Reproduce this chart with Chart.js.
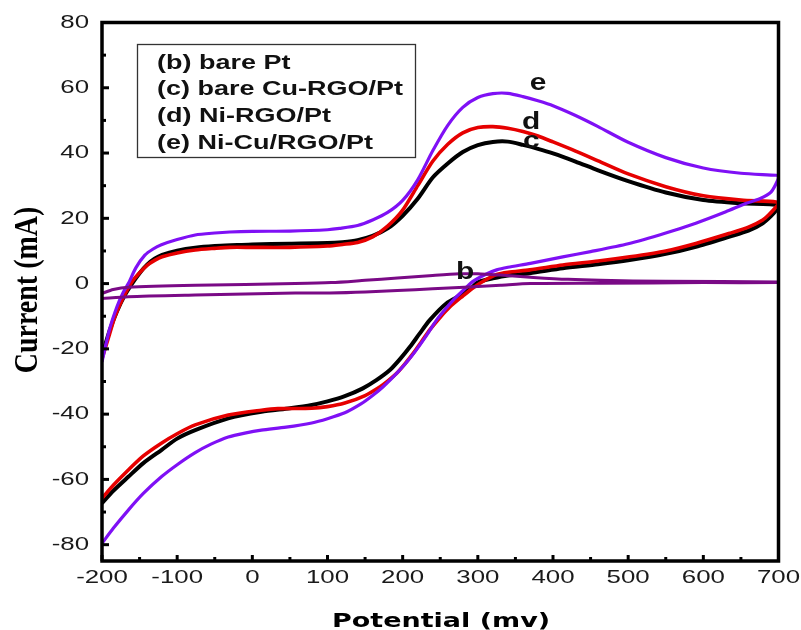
<!DOCTYPE html>
<html>
<head>
<meta charset="utf-8">
<script src="https://cdn.jsdelivr.net/npm/chart.js@4.4.0/dist/chart.umd.min.js"></script>
<style>
    html, body { margin: 0; padding: 0; background: #fff; }
    #wrap { width: 801px; height: 630px; }
</style>
</head>
<body>
<div id="wrap"><canvas id="cv-chart" width="801" height="630"></canvas></div>
<script>
// Axis ticks
const xTicks = [-200, -100, 0, 100, 200, 300, 400, 500, 600, 700];
const yTicks = [-80, -60, -40, -20, 0, 20, 40, 60, 80];

// (b) bare Pt - forward sweep then reverse sweep
const bPot = [-200, -185, -165, -76, 57, 105, 150, 193, 240, 275, 300, 330, 374, 420, 463, 550, 700,
              700, 600, 463, 370, 330, 282, 240, 193, 150, 103, 57, -76, -165, -200];
const bCur = [-3, -1.8, -1.1, -0.5, 0, 0.3, 1, 1.7, 2.5, 3, 3, 2.6, 1.9, 1.3, 1, 0.7, 0.5,
              0.3, 0.3, 0.1, 0, -0.5, -1.1, -1.6, -2.1, -2.6, -2.9, -2.9, -3.5, -4, -4.6];

// (c) bare Cu-RGO/Pt
const cPot = [-200, -190, -180, -170, -160, -150, -140, -130, -120, -100, -76, -50, -20, 0, 50, 100, 120, 140, 160, 180, 200, 220, 240, 260, 280, 300, 320, 340, 360, 380, 400, 430, 460, 500, 550, 600, 650, 700,
              697, 690, 679, 660, 635, 590, 550, 502, 460, 413, 369, 340, 320, 300, 293, 280, 258, 236, 222, 210, 197, 183, 165, 147, 123, 100, 79, 50, 12, -32, -76, -100, -121, -145, -165, -185, -200];
const cCur = [-22, -14.5, -8.5, -3.7, 0, 3.2, 5.8, 7.6, 8.8, 10.1, 11, 11.5, 11.8, 12, 12.2, 12.4, 12.7, 13.3, 14.6, 16.9, 20.8, 26, 32.5, 36.8, 40.3, 42.4, 43.4, 43.5, 42.5, 41.3, 39.9, 37.4, 34.7, 31.4, 27.9, 25.6, 24.6, 24,
              22.5, 20.7, 18.5, 16.2, 14.4, 11.3, 9.1, 7.2, 5.9, 4.7, 3.2, 2.5, 1.6, 0.4, -1, -3.2, -6.1, -11.2, -15.5, -19.3, -23, -26.5, -29.6, -32.1, -34.5, -36.1, -37.2, -38.2, -39.3, -41.3, -44.9, -47.5, -51, -55, -59.2, -63.5, -67.3];

// (d) Ni-RGO/Pt
const dPot = [-200, -190, -183, -176, -169, -160, -150, -140, -130, -120, -100, -76, -50, -30, 0, 50, 100, 120, 140, 160, 180, 200, 220, 240, 260, 280, 300, 320, 340, 360, 380, 400, 430, 460, 500, 550, 600, 650, 697, 700,
              695, 688, 679, 660, 635, 590, 550, 502, 460, 413, 369, 340, 325, 310, 293, 280, 263, 250, 236, 225, 214, 203, 192, 180, 170, 150, 123, 100, 79, 34, 12, -32, -76, -100, -121, -145, -165, -185, -200];
const dCur = [-23, -15.5, -10.2, -6.3, -3, 0.6, 3.3, 5.6, 7.1, 8.2, 9.4, 10.3, 10.8, 11.1, 11.1, 11.1, 11.5, 12, 12.6, 14.3, 17.6, 22.5, 30, 37.5, 42.7, 46.2, 47.8, 48.1, 47.6, 46.6, 45.2, 43.4, 40.6, 37.6, 33.6, 29.7, 26.9, 25.6, 25, 24.4,
              23, 21.3, 19.5, 17.3, 15.4, 12.3, 10, 8.2, 6.9, 5.7, 4.2, 3.5, 2.8, 1.1, -1.4, -3.8, -7.1, -10.3, -14.2, -17.8, -21.4, -24.6, -27.5, -29.9, -31.6, -34.3, -36.6, -37.7, -38.2, -38.3, -38.8, -40.3, -43.3, -46, -48.9, -52.8, -57.1, -61.8, -65.8];

// (e) Ni-Cu/RGO/Pt
const ePot = [-200, -190, -180, -172, -165, -155, -143, -132, -121, -100, -76, -50, -30, 0, 50, 100, 116, 140, 160, 180, 200, 220, 240, 260, 280, 300, 320, 340, 360, 380, 400, 430, 460, 500, 550, 600, 650, 697, 700,
              699, 690, 675, 657, 630, 590, 550, 500, 450, 413, 370, 340, 325, 310, 293, 280, 270, 258, 245, 232, 218, 205, 192, 174, 160, 145, 123, 100, 79, 45, 12, -10, -32, -55, -76, -100, -121, -145, -165, -185, -200];
const eCur = [-24, -14, -7, -2.8, 0, 4.8, 8.7, 10.6, 11.9, 13.5, 14.9, 15.5, 15.8, 16, 16.1, 16.5, 16.9, 17.8, 19.5, 21.8, 25.5, 31.8, 40.7, 48.5, 54, 57, 58.2, 58.3, 57.3, 56, 54.5, 51.5, 48.1, 43.3, 38.6, 35.4, 33.8, 33.2, 33,
              31.7, 28, 26, 24.6, 22, 18.5, 15.5, 12.2, 9.8, 8.2, 6.2, 5, 4.2, 2.8, 0.6, -2.2, -4.4, -7.5, -11.2, -15.8, -20.4, -24.2, -27.5, -31.6, -34.3, -36.8, -39.6, -41.4, -42.7, -44, -44.9, -45.8, -47, -49.2, -51.8, -55.5, -59.2, -64.3, -69.4, -75, -79.6];

// Legend text and curve tags
const legendLines = ['(b) bare Pt', '(c) bare Cu-RGO/Pt', '(d) Ni-RGO/Pt', '(e) Ni-Cu/RGO/Pt'];
const tagNames = ['b', 'c', 'd', 'e'];
const tagPot = [283, 371, 371, 380];
const tagCur = [3.5, 43.4, 49.2, 61.4];

function toPoints(pot, cur) {
    return pot.map((p, i) => ({ x: p, y: cur[i] }));
}

// Draw text stretched horizontally like the scanned figure
function drawText(ctx, str, x, y, font, align, sx, baseline) {
    ctx.save();
    ctx.translate(x, y);
    ctx.scale(sx, 1);
    ctx.font = font;
    ctx.textAlign = align;
    ctx.textBaseline = baseline || 'middle';
    ctx.fillText(str, 0, 0);
    ctx.restore();
}

// Frame, inward ticks, labels, legend box
const decorPlugin = {
    id: 'decor',
    afterDraw(chart) {
        const ctx = chart.ctx;
        const a = chart.chartArea;
        const xs = chart.scales.x;
        const ys = chart.scales.y;

        ctx.save();
        ctx.strokeStyle = '#000';
        ctx.fillStyle = '#000';

        // ticks (inside)
        ctx.lineWidth = 3;
        for (let v = -200; v <= 700; v += 50) {
            const px = xs.getPixelForValue(v);
            const len = (v % 100 === 0) ? 6 : 4;
            ctx.beginPath();
            ctx.moveTo(px, a.bottom);
            ctx.lineTo(px, a.bottom - len);
            ctx.stroke();
        }
        for (let v = -80; v <= 80; v += 10) {
            const py = ys.getPixelForValue(v);
            const len = (v % 20 === 0) ? 7 : 4;
            ctx.beginPath();
            ctx.moveTo(a.left, py);
            ctx.lineTo(a.left + len, py);
            ctx.stroke();
        }

        // frame
        ctx.lineWidth = 3.5;
        ctx.strokeRect(a.left, a.top, a.right - a.left, a.bottom - a.top);

        // tick labels
        ctx.fillStyle = '#1a1a1a';
        xTicks.forEach(v => {
            drawText(ctx, String(v), xs.getPixelForValue(v), 578, '19px "Liberation Sans", Arial', 'center', 1.36);
        });
        yTicks.forEach(v => {
            drawText(ctx, String(v), 89, ys.getPixelForValue(v), '19px "Liberation Sans", Arial', 'right', 1.36);
        });

        // axis titles
        ctx.fillStyle = '#000';
        drawText(ctx, 'Potential (mv)', 441, 627, 'bold 20px "DejaVu Sans"', 'center', 1.35, 'alphabetic');
        ctx.save();
        ctx.translate(28, 290);
        ctx.rotate(-Math.PI / 2);
        ctx.scale(1, 1.2);
        ctx.font = 'bold 28px "Liberation Serif", "Times New Roman", serif';
        ctx.textAlign = 'center';
        ctx.textBaseline = 'middle';
        ctx.fillText('Current (mA)', 0, 0);
        ctx.restore();

        // legend box
        ctx.lineWidth = 1.3;
        ctx.strokeStyle = '#333';
        ctx.strokeRect(137.5, 44.5, 278, 113);
        ctx.fillStyle = '#111';
        legendLines.forEach((t, i) => {
            drawText(ctx, t, 157, 63 + i * 26.7, 'bold 20px "Liberation Sans", Arial', 'left', 1.35);
        });

        // curve tags
        tagNames.forEach((t, i) => {
            drawText(ctx, t, xs.getPixelForValue(tagPot[i]), ys.getPixelForValue(tagCur[i]),
                'bold 23px "Liberation Sans", Arial', 'center', 1.3);
        });
        ctx.restore();
    }
};

const ctx = document.getElementById('cv-chart').getContext('2d');
const cvChart = new Chart(ctx, {
    type: 'scatter',
    data: {
        datasets: [
            { label: legendLines[0], data: toPoints(bPot, bCur), borderColor: '#7a0a86', borderWidth: 3, order: 0 },
            { label: legendLines[3], data: toPoints(ePot, eCur), borderColor: '#7f10f5', borderWidth: 3.2, order: 1 },
            { label: legendLines[2], data: toPoints(dPot, dCur), borderColor: '#e60000', borderWidth: 3.6, order: 2 },
            { label: legendLines[1], data: toPoints(cPot, cCur), borderColor: '#000000', borderWidth: 4, order: 3 }
        ].map(ds => Object.assign(ds, { showLine: true, pointRadius: 0, tension: 0.25, fill: false }))
    },
    options: {
        responsive: false,
        animation: false,
        devicePixelRatio: 1,
        layout: { padding: { left: 0, top: 22.5, right: 22.5, bottom: 0 } },
        scales: {
            x: {
                type: 'linear', min: -200, max: 700,
                grid: { display: false, drawTicks: false },
                border: { display: false },
                ticks: { display: false },
                afterFit: (s) => { s.height = 69; }
            },
            y: {
                type: 'linear', min: -85, max: 80,
                grid: { display: false, drawTicks: false },
                border: { display: false },
                ticks: { display: false },
                afterFit: (s) => { s.width = 102; }
            }
        },
        plugins: {
            legend: { display: false },
            tooltip: { enabled: false }
        }
    },
    plugins: [decorPlugin]
});
</script>
</body>
</html>
